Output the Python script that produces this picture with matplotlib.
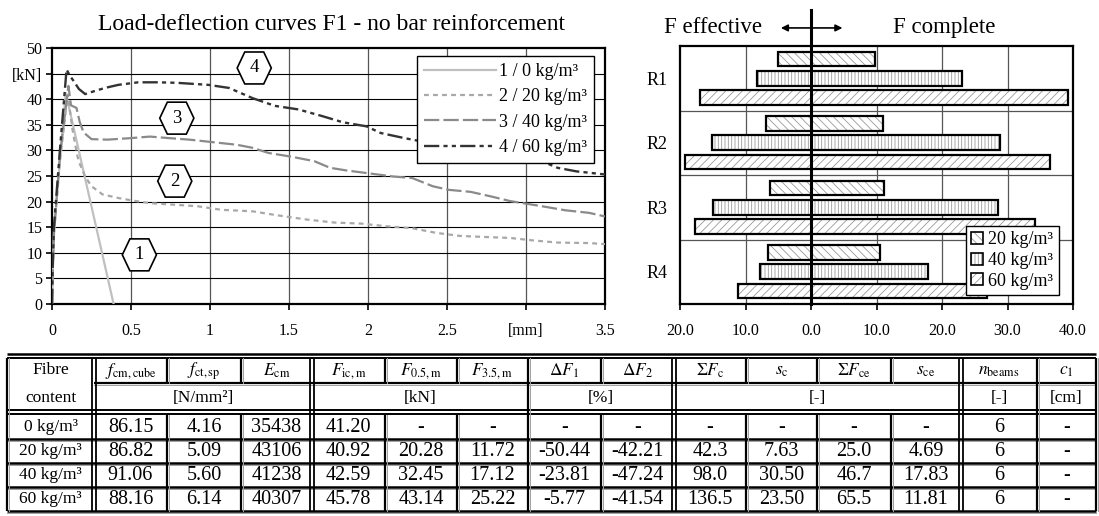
import numpy as np
import matplotlib
matplotlib.use("Agg")
import matplotlib.pyplot as plt
from matplotlib.patches import Polygon, Patch
from matplotlib.legend_handler import HandlerTuple
from matplotlib.ticker import FuncFormatter

plt.rcParams['font.family'] = ['Liberation Serif', 'DejaVu Serif']
plt.rcParams['mathtext.fontset'] = 'stix'
plt.rcParams['hatch.linewidth'] = 0.6
plt.rcParams['lines.scale_dashes'] = False

# load-deflection curves (deflection [mm], load [kN])
d1 = [0, 0.003, 0.012, 0.087, 0.39]
F1 = [0, 5, 14, 41.2, 0]

d2 = [0, 0.004, 0.013, 0.05, 0.1, 0.13, 0.16, 0.174, 0.21, 0.25, 0.32, 0.42, 0.51,
      0.62, 0.77, 0.92, 1.07, 1.27, 1.41, 1.61, 1.79, 1.96, 2.11, 2.28, 2.43, 2.58,
      2.73, 2.9, 3.05, 3.2, 3.4, 3.5]
F2 = [0, 6, 14, 28, 40.9, 34.0, 29.0, 27.5, 24.9, 23.0, 21.4, 20.7, 20.2,
      19.7, 19.4, 19.1, 18.4, 18.1, 17.4, 16.5, 15.9, 15.7, 15.2, 14.8, 13.9, 13.3,
      13.1, 12.9, 12.4, 12.0, 11.9, 11.7]

d3 = [0, 0.004, 0.013, 0.05, 0.104, 0.12, 0.155, 0.175, 0.2, 0.25, 0.35, 0.5, 0.62,
      0.74, 0.87, 1.02, 1.17, 1.27, 1.37, 1.51, 1.66, 1.76, 1.86, 2.01, 2.16, 2.28,
      2.41, 2.51, 2.65, 2.78, 2.9, 3.0, 3.1, 3.25, 3.4, 3.5]
F3 = [0, 6, 14, 29, 42.6, 38.8, 38.3, 35.6, 33.5, 32.2, 32.1, 32.4, 32.7,
      32.4, 32.1, 31.6, 31.1, 30.5, 29.5, 28.8, 27.9, 26.6, 26.1, 25.5, 24.9, 24.6,
      23.0, 22.3, 21.9, 21.0, 20.1, 19.6, 19.1, 18.3, 17.8, 17.1]

d4 = [0, 0.004, 0.012, 0.05, 0.092, 0.115, 0.136, 0.17, 0.21, 0.26, 0.335, 0.42,
      0.546, 0.67, 0.79, 0.99, 1.12, 1.27, 1.41, 1.56, 1.71, 1.84, 1.99, 2.08, 2.23,
      2.5, 2.75, 3.0, 3.1, 3.2, 3.32, 3.5]
F4 = [0, 7, 15, 30, 45.8, 44.5, 43.6, 42.0, 41.0, 41.5, 42.2, 42.8,
      43.3, 43.3, 43.2, 42.8, 42.2, 40.2, 38.7, 38.0, 36.7, 35.5, 34.7, 33.4, 32.4,
      30.8, 29.6, 28.4, 27.9, 26.6, 25.9, 25.3]

curve_labels = ['1 / 0 kg/m³', '2 / 20 kg/m³', '3 / 40 kg/m³', '4 / 60 kg/m³']
x_ticks = [0, 0.5, 1, 1.5, 2, 2.5, 3, 3.5]
x_tick_labels = ['0', '0.5', '1', '1.5', '2', '2.5', '[mm]', '3.5']
y_ticks = [0, 5, 10, 15, 20, 25, 30, 35, 40, 45, 50]
y_tick_labels = ['0', '5', '10', '15', '20', '25', '30', '35', '40', '[kN]', '50']

# curve number tags (hexagons)
tag_text = ['1', '2', '3', '4']
tag_x = [0.553, 0.777, 0.79, 1.28]
tag_y = [9.6, 24.0, 36.3, 46.1]

# bar chart: effective (left) and complete (right) force sums
beams = ['R1', 'R2', 'R3', 'R4']
fibre_labels = ['20 kg/m³', '40 kg/m³', '60 kg/m³']
eff_20 = [5.0, 6.8, 6.2, 6.6]
comp_20 = [9.8, 11.0, 11.2, 10.6]
eff_40 = [8.3, 15.1, 15.0, 7.8]
comp_40 = [23.1, 28.8, 28.6, 17.9]
eff_60 = [16.9, 19.2, 17.7, 11.2]
comp_60 = [39.3, 36.5, 34.2, 26.9]

# table
row_labels = ['0 kg/m³', '20 kg/m³', '40 kg/m³', '60 kg/m³']
fcm_cube = [86.15, 86.82, 91.06, 88.16]
fct_sp = [4.16, 5.09, 5.60, 6.14]
E_cm = [35438, 43106, 41238, 40307]
F_ic = [41.20, 40.92, 42.59, 45.78]
F_05 = [None, 20.28, 32.45, 43.14]
F_35 = [None, 11.72, 17.12, 25.22]
dF1 = [None, -50.44, -23.81, -5.77]
dF2 = [None, -42.21, -47.24, -41.54]
sum_Fc = [None, 42.3, 98.0, 136.5]
s_c = [None, 7.63, 30.50, 23.50]
sum_Fce = [None, 25.0, 46.7, 65.5]
s_ce = [None, 4.69, 17.83, 11.81]
n_beams = [6, 6, 6, 6]
c_1 = [None, None, None, None]

head_cols = [r'$f_{\rm cm,cube}$', r'$f_{\rm ct,sp}$', r'$E_{\rm cm}$',
             r'$F_{\rm ic,m}$', r'$F_{\rm 0.5,m}$', r'$F_{\rm 3.5,m}$',
             r'$\Delta F_{\rm 1}$', r'$\Delta F_{\rm 2}$',
             r'$\Sigma F_{\rm c}$', r'$s_{\rm c}$', r'$\Sigma F_{\rm ce}$', r'$s_{\rm ce}$',
             r'$n_{\rm beams}$', r'$c_{\rm 1}$']
unit_spans = [(1, 4, '[N/mm²]'), (4, 7, '[kN]'), (7, 9, '[%]'),
              (9, 13, '[-]'), (13, 14, '[-]'), (14, 15, '[cm]')]

W, H = 1099, 516
fig = plt.figure(figsize=(W / 100, H / 100), dpi=100)

# ---------------- table (pixel coordinates) ----------------
tab = fig.add_axes([0, 0, 1, 1])
tab.set_xlim(0, W)
tab.set_ylim(H, 0)
tab.axis('off')

col_x = [7, 94, 167, 241, 312, 385, 457, 528, 601, 674, 746, 817, 891, 961, 1037, 1096]
double_cols = {1, 4, 9, 13}
full_cols = {0, 1, 4, 7, 9, 13, 14, 15}
y_top = 357.5
y_head = 383
y_head_bot = 412
row_y = [414.5, 438.5, 462.5, 486.5, 510.5]


def hline(y, x0, x1, lw=1.6, shade=True):
    tab.plot([x0, x1], [y, y], color='black', lw=lw, solid_capstyle='butt')
    if shade:
        tab.plot([x0, x1], [y + 2, y + 2], color='#a0a0a0', lw=0.7)


def vline(x, y0, y1, double=False):
    if double:
        for dx in (-2.2, 2.2):
            tab.plot([x + dx, x + dx], [y0, y1], color='black', lw=1.3, solid_capstyle='butt')
    else:
        tab.plot([x, x], [y0, y1], color='black', lw=1.6, solid_capstyle='butt')
        tab.plot([x + 2, x + 2], [y0, y1], color='#a0a0a0', lw=0.7)


# outer double lines
hline(y_top - 4, col_x[0], col_x[-1], lw=1.8, shade=False)
hline(y_top, col_x[0], col_x[-1], lw=1.4, shade=False)
hline(y_head, col_x[1], col_x[-1])
hline(y_head_bot - 2, col_x[0], col_x[-1], lw=1.4, shade=False)
hline(y_head_bot + 2, col_x[0], col_x[-1], lw=1.4, shade=False)
for y in row_y[1:]:
    hline(y, col_x[0], col_x[-1], lw=1.8)

for i, x in enumerate(col_x):
    dbl = i in double_cols
    if i in full_cols:
        vline(x, y_top, row_y[-1], double=dbl)
    else:
        vline(x, y_top, y_head)
        vline(x, row_y[0], row_y[-1])

head_size = 12.5
tab.text((col_x[0] + col_x[1]) / 2, (y_top + y_head) / 2, 'Fibre',
         ha='center', va='center', fontsize=head_size)
tab.text((col_x[0] + col_x[1]) / 2, (y_head + y_head_bot) / 2, 'content',
         ha='center', va='center', fontsize=head_size)
for j, lab in enumerate(head_cols):
    tab.text((col_x[j + 1] + col_x[j + 2]) / 2, (y_top + y_head) / 2 + 1, lab,
             ha='center', va='center', fontsize=head_size)
for a, b, lab in unit_spans:
    tab.text((col_x[a] + col_x[b]) / 2, (y_head + y_head_bot) / 2, lab,
             ha='center', va='center', fontsize=head_size)


def fmt(v, nd):
    if v is None:
        return '-'
    return '{:.{}f}'.format(v, nd)


columns = [(fcm_cube, 2), (fct_sp, 2), (E_cm, 0), (F_ic, 2), (F_05, 2), (F_35, 2),
           (dF1, 2), (dF2, 2), (sum_Fc, 1), (s_c, 2), (sum_Fce, 1), (s_ce, 2),
           (n_beams, 0), (c_1, 0)]
data_size = 14.5
for r in range(4):
    yc = (row_y[r] + row_y[r + 1]) / 2 + 0.5
    tab.text((col_x[0] + col_x[1]) / 2, yc, row_labels[r],
             ha='center', va='center', fontsize=12.5)
    for j, (vals, nd) in enumerate(columns):
        tab.text((col_x[j + 1] + col_x[j + 2]) / 2, yc, fmt(vals[r], nd),
                 ha='center', va='center', fontsize=data_size)

# ---------------- load-deflection curves ----------------
ax = fig.add_axes([52 / W, 1 - 304 / H, 553 / W, 256 / H])
ax.plot(d1, F1, color='#c0c0c0', lw=1.6, label=curve_labels[0], zorder=3)
ax.plot(d2, F2, color='#a8a8a8', lw=1.6, dashes=(3.5, 3), label=curve_labels[1], zorder=3)
ax.plot(d3, F3, color='#8a8a8a', lw=1.6, dashes=(11, 3), label=curve_labels[2], zorder=3)
ax.plot(d4, F4, color='#333333', lw=1.7, dashes=(11, 3, 3, 3, 3, 3),
        label=curve_labels[3], zorder=3)

ax.set_xlim(0, 3.5)
ax.set_ylim(0, 50)
ax.set_xticks(x_ticks)
ax.set_xticklabels(x_tick_labels)
ax.set_yticks(y_ticks)
ax.set_yticklabels(y_tick_labels)
ax.tick_params(axis='x', direction='out', length=4, width=1.2, pad=10, labelsize=11.5)
ax.tick_params(axis='y', direction='out', length=4, width=1.2, pad=3, labelsize=11.5)
for x in x_ticks[1:-1]:
    ax.axvline(x, color='#555555', lw=0.9, zorder=1)
for y in y_ticks[1:-1]:
    ax.axhline(y, color='black', lw=0.8, zorder=1)
for s in ax.spines.values():
    s.set_linewidth(1.6)
    s.set_color('black')

# hexagon tags
hx_out, hx_in, hy = 0.108, 0.06, 3.12
for t, cx, cy in zip(tag_text, tag_x, tag_y):
    verts = [(cx - hx_out, cy), (cx - hx_in, cy + hy), (cx + hx_in, cy + hy),
             (cx + hx_out, cy), (cx + hx_in, cy - hy), (cx - hx_in, cy - hy)]
    ax.add_patch(Polygon(verts, closed=True, facecolor='white', edgecolor='black',
                         lw=1.2, zorder=5, clip_on=False))
    ax.text(cx, cy, t, ha='center', va='center', fontsize=13.5, zorder=6)

leg = ax.legend(loc='upper right', bbox_to_anchor=(0.98, 0.969), borderaxespad=0,
                fontsize=13, handlelength=4.0, handletextpad=0.15, labelspacing=0.46,
                borderpad=0.4, fancybox=False, framealpha=1, edgecolor='black')
leg.get_frame().set_linewidth(1.0)
leg.set_zorder(7)

fig.text(332 / W, 1 - 24 / H, 'Load-deflection curves F1 - no bar reinforcement',
         ha='center', va='center', fontsize=17)

# ---------------- effective / complete bars ----------------
axr = fig.add_axes([680 / W, 1 - 304 / H, 393 / W, 258 / H])
hatch_gray = '#9a9a9a'
hatches = ['\\\\\\\\', '|||||', '////']
offsets = [-0.295, 0.0, 0.295]
bar_h = 0.225
ypos = np.arange(len(beams))
series = [(eff_20, comp_20), (eff_40, comp_40), (eff_60, comp_60)]
for k, (eff, comp) in enumerate(series):
    eff = np.array(eff)
    comp = np.array(comp)
    axr.barh(ypos + offsets[k], eff + comp, left=-eff, height=bar_h, color='white',
             edgecolor=hatch_gray, hatch=hatches[k], linewidth=0, zorder=2)
    axr.barh(ypos + offsets[k], eff + comp, left=-eff, height=bar_h, color='none',
             edgecolor='black', linewidth=1.6, zorder=3)

axr.set_xlim(-20, 40)
axr.set_ylim(3.5, -0.5)
axr.set_yticks(ypos)
axr.set_yticklabels(beams)
axr.tick_params(axis='y', length=0, pad=9, labelsize=13)
axr.set_xticks(np.arange(-20, 41, 10))
axr.xaxis.set_major_formatter(FuncFormatter(lambda v, p: '{:.1f}'.format(abs(v))))
axr.tick_params(axis='x', direction='out', length=4, width=1.2, pad=10, labelsize=11.5)
for x in [-10, 10, 20, 30]:
    axr.axvline(x, color='#555555', lw=0.9, zorder=1)
for y in [0.5, 1.5, 2.5]:
    axr.axhline(y, color='#555555', lw=0.9, zorder=1)
for s in axr.spines.values():
    s.set_linewidth(1.6)
    s.set_color('black')

xt = axr.get_xaxis_transform()
axr.plot([0, 0], [0, 1.14], transform=xt, color='black', lw=2.2, clip_on=False, zorder=4)
axr.annotate('', xy=(4.8, 1.07), xytext=(-4.6, 1.07), xycoords=xt, textcoords=xt,
             arrowprops=dict(arrowstyle='<|-|>', color='black', lw=1.2,
                             mutation_scale=10, shrinkA=0, shrinkB=0),
             annotation_clip=False)
axr.text(-14.9, 1.07, 'F effective', transform=xt, ha='center', va='center', fontsize=16.5)
axr.text(20.4, 1.07, 'F complete', transform=xt, ha='center', va='center', fontsize=16.5)

handles = [(Patch(facecolor='white', edgecolor=hatch_gray, hatch=h, linewidth=0),
            Patch(facecolor='none', edgecolor='black', linewidth=1.2)) for h in hatches]
legr = axr.legend(handles, fibre_labels, handler_map={tuple: HandlerTuple(ndivide=1)},
                  loc='lower right', bbox_to_anchor=(0.964, 0.035), borderaxespad=0,
                  fontsize=13, handlelength=0.65, handleheight=0.65, handletextpad=0.3,
                  labelspacing=0.2, borderpad=0.3, fancybox=False, framealpha=1,
                  edgecolor='black')
legr.get_frame().set_linewidth(1.0)
legr.set_zorder(7)

fig.savefig('out.png', dpi=100)
